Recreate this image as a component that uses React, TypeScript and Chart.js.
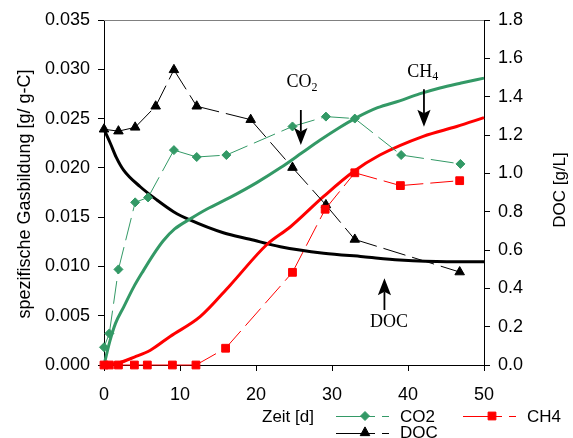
import React, { useEffect, useRef } from 'react';
import { Chart, registerables } from 'chart.js';

Chart.register(...registerables);

// measured series
const co2Days = [0, 0.7, 1.9, 4.1, 5.8, 9.2, 12.2, 16.1, 24.8, 29.2, 33.0, 39.1, 46.9];
const co2Values = [0.0018, 0.0032, 0.0097, 0.0165, 0.0170, 0.0218, 0.0211, 0.0213, 0.0242, 0.0252, 0.0250, 0.0213, 0.0204];

const ch4Days = [0, 0.7, 1.9, 4.0, 5.7, 9.0, 12.1, 16.0, 24.8, 29.1, 33.0, 39.0, 46.8];
const ch4Values = [0, 0, 0, 0, 0, 0, 0, 0.0017, 0.0094, 0.0158, 0.0195, 0.0182, 0.0187];

const docDays = [0, 1.9, 4.1, 6.8, 9.2, 12.2, 19.3, 24.8, 29.2, 33.0, 46.8];
const docValues = [1.23, 1.22, 1.24, 1.35, 1.54, 1.35, 1.28, 1.03, 0.835, 0.655, 0.485];

// model curves
const co2ModelDays = [0, 0.8, 1.5, 2.6, 3.9, 5.2, 6.5, 7.8, 9.3, 11.3, 13.5, 16.6, 20.1, 23.2, 26, 28.4, 31, 33, 36, 38.9, 41.5, 44.2, 47, 50];
const co2ModelValues = [0, 0.0025, 0.0042, 0.0059, 0.0079, 0.0096, 0.0112, 0.0126, 0.0138, 0.0148, 0.0158, 0.0170, 0.0185, 0.0200, 0.0215, 0.0228, 0.0241, 0.0250, 0.0261, 0.0268, 0.0275, 0.0281, 0.0286, 0.0291];

const ch4ModelDays = [0, 1.9, 4, 6.1, 8.7, 12.65, 16.6, 21.4, 24.5, 28.9, 32.8, 36.3, 42, 46.4, 50];
const ch4ModelValues = [0, 0.0002, 0.0008, 0.0015, 0.0029, 0.0049, 0.0081, 0.0122, 0.0140, 0.0171, 0.0196, 0.0213, 0.0232, 0.0242, 0.0251];

const docModelDays = [0, 0.83, 1.6, 2.58, 4.77, 6.96, 9.15, 11.3, 15.7, 19.2, 23.2, 28.9, 34.1, 38.9, 45.1, 50];
const docModelValues = [1.23, 1.157, 1.085, 1.017, 0.93, 0.861, 0.8, 0.757, 0.69, 0.656, 0.617, 0.583, 0.565, 0.548, 0.539, 0.539];

const GREEN = '#339966';
const RED = '#ff0000';
const BLACK = '#000000';
const SANS = "'Liberation Sans', Arial, sans-serif";
const SERIF = "'Liberation Serif', 'Times New Roman', serif";

const pts = (xs: number[], ys: number[]) => xs.map((x, i) => ({ x, y: ys[i] }));

// restart dash pattern on every segment
const segRestart = { borderDashOffset: (c: any) => (c.p0DataIndex % 2 ? 0.001 : 0) };

function drawMarker(ctx: CanvasRenderingContext2D, kind: string, x: number, y: number, color: string) {
  ctx.save();
  ctx.fillStyle = color;
  ctx.strokeStyle = color;
  ctx.lineWidth = 1;
  ctx.beginPath();
  if (kind === 'diamond') {
    const r = 4.5;
    ctx.moveTo(x - r, y); ctx.lineTo(x, y - r); ctx.lineTo(x + r, y); ctx.lineTo(x, y + r);
  } else if (kind === 'square') {
    const h = 3.9;
    ctx.rect(x - h, y - h, 2 * h, 2 * h);
  } else {
    const r = 5.5;
    ctx.moveTo(x, y - r * 0.75 - 1.5);
    ctx.lineTo(x + r * 0.866, y + r * 0.75 - 1);
    ctx.lineTo(x - r * 0.866, y + r * 0.75 - 1);
  }
  ctx.closePath();
  ctx.fill();
  ctx.stroke();
  ctx.restore();
}

function drawArrow(ctx: CanvasRenderingContext2D, x: number, yTail: number, yTip: number) {
  const dir = yTip > yTail ? 1 : -1;
  const headLen = 17;
  const halfW = 6.6;
  const notch = 3.5;
  ctx.save();
  ctx.strokeStyle = BLACK;
  ctx.fillStyle = BLACK;
  ctx.lineWidth = 1.8;
  ctx.beginPath();
  ctx.moveTo(x, yTail);
  ctx.lineTo(x, yTip - dir * (headLen - notch));
  ctx.stroke();
  ctx.beginPath();
  ctx.moveTo(x, yTip);
  ctx.lineTo(x + halfW, yTip - dir * headLen);
  ctx.lineTo(x, yTip - dir * (headLen - notch));
  ctx.lineTo(x - halfW, yTip - dir * headLen);
  ctx.closePath();
  ctx.fill();
  ctx.restore();
}

function subText(ctx: CanvasRenderingContext2D, main: string, sub: string, x: number, y: number) {
  ctx.save();
  ctx.fillStyle = BLACK;
  ctx.textAlign = 'left';
  ctx.textBaseline = 'alphabetic';
  ctx.font = `18px ${SERIF}`;
  ctx.fillText(main, x, y);
  const w = ctx.measureText(main).width;
  ctx.font = `12px ${SERIF}`;
  ctx.fillText(sub, x + w, y + 3.5);
  ctx.restore();
}

// annotation anchors in data units (day, left-axis value)
const co2Note = { textX: 24.0, textY: 0.02817, arrowX: 25.9, tail: 0.02587, tip: 0.02232 };
const ch4Note = { textX: 39.9, textY: 0.02925, arrowX: 42.1, tail: 0.02797, tip: 0.02418 };
const docNote = { textX: 35.0, textY: 0.00382, arrowX: 36.9, tail: 0.00558, tip: 0.0088 };

const decorPlugin = {
  id: 'decor',
  afterDraw(chart: any) {
    const ctx: CanvasRenderingContext2D = chart.ctx;
    const { left, right, top, bottom } = chart.chartArea;
    const xs = chart.scales.x;
    const ys = chart.scales.y;
    ctx.save();
    // top border
    ctx.strokeStyle = '#808080';
    ctx.lineWidth = 1;
    ctx.beginPath();
    ctx.moveTo(left, Math.round(top) + 0.5);
    ctx.lineTo(right, Math.round(top) + 0.5);
    ctx.stroke();

    // axis titles
    ctx.fillStyle = BLACK;
    ctx.textAlign = 'center';
    ctx.textBaseline = 'middle';
    ctx.font = `18px ${SANS}`;
    ctx.save();
    ctx.translate(25.5, (top + bottom) / 2 + 1.5);
    ctx.rotate(-Math.PI / 2);
    ctx.fillText('spezifische Gasbildung [g/ g-C]', 0, 0);
    ctx.restore();
    ctx.font = `17px ${SANS}`;
    ctx.save();
    ctx.translate(560, 190);
    ctx.rotate(-Math.PI / 2);
    ctx.fillText('DOC [g/L]', 0, 0);
    ctx.restore();

    // x title + legend
    ctx.textAlign = 'left';
    ctx.textBaseline = 'alphabetic';
    ctx.font = `17px ${SANS}`;
    ctx.fillText('Zeit [d]', 262, 422);
    const legendItems = [
      { label: 'CO2', color: GREEN, kind: 'diamond', x: 336, y: 416 },
      { label: 'CH4', color: RED, kind: 'square', x: 463, y: 416 },
      { label: 'DOC', color: BLACK, kind: 'triangle', x: 336, y: 432.5 },
    ];
    legendItems.forEach((it) => {
      ctx.save();
      ctx.strokeStyle = it.color;
      ctx.lineWidth = 1;
      ctx.setLineDash([39, 7]);
      ctx.beginPath();
      ctx.moveTo(it.x, Math.round(it.y) + 0.5);
      ctx.lineTo(it.x + 53, Math.round(it.y) + 0.5);
      ctx.stroke();
      ctx.restore();
      drawMarker(ctx, it.kind, it.x + 29, it.y, it.color);
      ctx.fillStyle = BLACK;
      ctx.fillText(it.label, it.x + 64, it.y + 5.5);
    });

    // annotations
    const notes = [
      { n: co2Note, main: 'CO', sub: '2' },
      { n: ch4Note, main: 'CH', sub: '4' },
    ];
    notes.forEach(({ n, main, sub }) => {
      subText(ctx, main, sub, xs.getPixelForValue(n.textX), ys.getPixelForValue(n.textY));
      drawArrow(ctx, xs.getPixelForValue(n.arrowX), ys.getPixelForValue(n.tail), ys.getPixelForValue(n.tip));
    });
    ctx.fillStyle = BLACK;
    ctx.font = `18px ${SERIF}`;
    ctx.textAlign = 'left';
    ctx.fillText('DOC', xs.getPixelForValue(docNote.textX), ys.getPixelForValue(docNote.textY));
    drawArrow(ctx, xs.getPixelForValue(docNote.arrowX), ys.getPixelForValue(docNote.tail), ys.getPixelForValue(docNote.tip));
    ctx.restore();
  },
};

export default function App() {
  const ref = useRef<HTMLCanvasElement | null>(null);
  useEffect(() => {
    if (!ref.current) return;
    const tickFont = { family: SANS, size: 18 };
    const chart = new Chart(ref.current, {
      type: 'line',
      data: {
        datasets: [
          {
            label: 'CO2',
            data: pts(co2Days, co2Values),
            yAxisID: 'y',
            borderColor: GREEN,
            backgroundColor: GREEN,
            borderWidth: 1,
            borderDash: [23, 7],
            segment: segRestart,
            pointStyle: 'rectRot',
            pointRadius: 4.5,
            pointBorderWidth: 1,
            clip: false,
            order: 0,
          },
          {
            label: 'CH4',
            data: pts(ch4Days, ch4Values),
            yAxisID: 'y',
            borderColor: RED,
            backgroundColor: RED,
            borderWidth: 1,
            borderDash: [23, 7],
            segment: segRestart,
            pointStyle: 'rect',
            pointRadius: 5.5,
            pointBorderWidth: 1,
            clip: false,
            order: 0,
          },
          {
            label: 'DOC',
            data: pts(docDays, docValues),
            yAxisID: 'y1',
            borderColor: BLACK,
            backgroundColor: BLACK,
            borderWidth: 1,
            borderDash: [23, 7],
            segment: segRestart,
            pointStyle: 'triangle',
            pointRadius: 5.5,
            pointBorderWidth: 1,
            clip: false,
            order: 0,
          },
          {
            label: 'CO2 model',
            data: pts(co2ModelDays, co2ModelValues),
            yAxisID: 'y',
            borderColor: GREEN,
            borderWidth: 3,
            pointRadius: 0,
            cubicInterpolationMode: 'monotone',
            clip: false,
            order: 1,
          },
          {
            label: 'CH4 model',
            data: pts(ch4ModelDays, ch4ModelValues),
            yAxisID: 'y',
            borderColor: RED,
            borderWidth: 3,
            pointRadius: 0,
            cubicInterpolationMode: 'monotone',
            clip: false,
            order: 1,
          },
          {
            label: 'DOC model',
            data: pts(docModelDays, docModelValues),
            yAxisID: 'y1',
            borderColor: BLACK,
            borderWidth: 3,
            pointRadius: 0,
            cubicInterpolationMode: 'monotone',
            clip: false,
            order: 1,
          },
        ],
      },
      options: {
        animation: false,
        responsive: true,
        maintainAspectRatio: false,
        layout: { padding: { top: 20, left: 0, right: 0, bottom: 0 } },
        plugins: { legend: { display: false }, tooltip: { enabled: false } },
        scales: {
          x: {
            type: 'linear',
            min: 0,
            max: 50,
            ticks: { stepSize: 10, font: tickFont, color: BLACK, padding: 13 },
            grid: { display: true, drawOnChartArea: false, drawTicks: true, tickLength: 6, color: BLACK },
            border: { display: true, color: BLACK, width: 1 },
            afterFit: (s: any) => { s.height = 73; },
          },
          y: {
            type: 'linear',
            position: 'left',
            min: 0,
            max: 0.035,
            ticks: { stepSize: 0.005, font: tickFont, color: BLACK, padding: 8, callback: (v: any) => Number(v).toFixed(3) },
            grid: { display: true, drawOnChartArea: false, drawTicks: true, tickLength: 6, color: BLACK },
            border: { display: true, color: BLACK, width: 1 },
            afterFit: (s: any) => { s.width = 104; },
          },
          y1: {
            type: 'linear',
            position: 'right',
            min: 0,
            max: 1.8,
            ticks: { stepSize: 0.2, font: tickFont, color: BLACK, padding: 8, callback: (v: any) => Number(v).toFixed(1) },
            grid: { display: true, drawOnChartArea: false, drawTicks: true, tickLength: 6, color: BLACK },
            border: { display: true, color: BLACK, width: 1 },
            afterFit: (s: any) => { s.width = 89; },
          },
        },
      },
      plugins: [decorPlugin],
    } as any);
    return () => chart.destroy();
  }, []);
  return (
    <div style={{ position: 'absolute', left: 0, top: 0, width: 573, height: 438, background: '#fff' }}>
      <canvas ref={ref} />
    </div>
  );
}
